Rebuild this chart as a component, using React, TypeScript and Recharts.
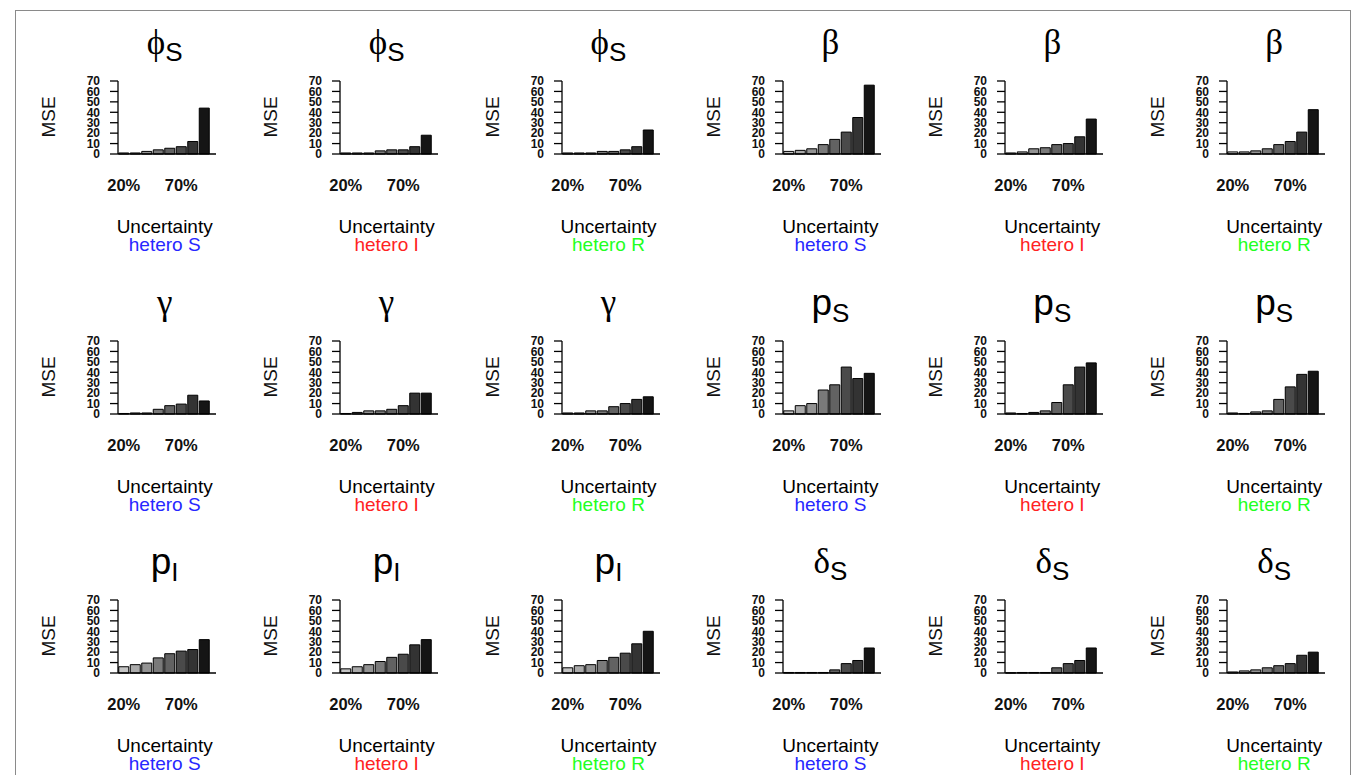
import React from "react";
import { Bar, BarChart, Cell, XAxis, YAxis } from "recharts";

// uncertainty levels on the x axis
const uncertainty = ["20%", "30%", "40%", "50%", "60%", "70%", "80%", "90%"];
const labelledLevels = ["20%", "70%"];
const mseTicks = [0, 10, 20, 30, 40, 50, 60, 70];

// MSE per uncertainty level, one array per panel
const phiS_heteroS = [1, 1, 2.5, 4, 5.5, 7, 12, 44];
const phiS_heteroI = [1, 1, 1, 3, 4, 4, 7, 18];
const phiS_heteroR = [1, 1, 1, 2.5, 2.5, 4, 7, 23];
const beta_heteroS = [2.5, 3.5, 5, 9, 14, 21, 35, 66];
const beta_heteroI = [1, 2, 5, 6, 9, 10, 16.5, 33.5];
const beta_heteroR = [2, 2, 3, 5, 9, 12, 21, 42.5];

const gamma_heteroS = [0.5, 1, 1, 4.5, 8, 9.5, 18, 12.5];
const gamma_heteroI = [0.5, 1.5, 3, 3, 4.5, 8, 20, 20];
const gamma_heteroR = [1, 1, 3, 3, 7, 10, 14, 16.5];
const pS_heteroS = [3, 8, 10, 23, 28, 45, 34, 39];
const pS_heteroI = [1, 0.5, 1.5, 3, 11, 28, 45, 49];
const pS_heteroR = [1, 0.5, 2, 3, 14, 26, 38, 41];

const pI_heteroS = [6, 8, 9.5, 14.5, 18.5, 21, 22.5, 32];
const pI_heteroI = [4, 6, 8, 11, 15, 18, 27, 32];
const pI_heteroR = [5, 7, 8, 12, 15, 19, 28, 40];
const deltaS_heteroS = [0.5, 0.5, 0.5, 0.5, 3, 9, 12, 24];
const deltaS_heteroI = [0.2, 0.5, 0.5, 0.5, 5, 9, 12, 24];
const deltaS_heteroR = [1, 2, 3, 5, 7, 9, 17, 20];

const grays = ["#c4c4c4", "#aaaaaa", "#939393", "#7a7a7a", "#626262", "#4a4a4a", "#333333", "#151515"];
const scenarioColor: Record<string, string> = { S: "#2727ff", I: "#ff2222", R: "#22ff22" };

const sans = "'Liberation Sans', Arial, sans-serif";
const serif = "'Liberation Serif', 'DejaVu Serif', serif";

type Title = { main: string; sub?: string; greek: boolean };

const titles: Title[][] = [
  [{ main: "\u03d5", sub: "S", greek: true }, { main: "\u03b2", greek: true }],
  [{ main: "\u03b3", greek: true }, { main: "p", sub: "S", greek: false }],
  [{ main: "p", sub: "I", greek: false }, { main: "\u03b4", sub: "S", greek: true }],
];

const rows = [
  [phiS_heteroS, phiS_heteroI, phiS_heteroR, beta_heteroS, beta_heteroI, beta_heteroR],
  [gamma_heteroS, gamma_heteroI, gamma_heteroR, pS_heteroS, pS_heteroI, pS_heteroR],
  [pI_heteroS, pI_heteroI, pI_heteroR, deltaS_heteroS, deltaS_heteroI, deltaS_heteroR],
];
const scenarios = ["S", "I", "R"];

const axisX0 = 117.7;
const colStep = 221.9;
const baseY = [154, 413.5, 673];
const plotH = 73;
const yAxisW = 45;

function PanelTitle({ t, x, y }: { t: Title; x: number; y: number }) {
  const mainSize = t.greek ? 35 : 37;
  return (
    <div
      style={{
        position: "absolute",
        left: x - 60,
        top: y - 26,
        width: 120,
        textAlign: "center",
        lineHeight: "52px",
        color: "#000",
        whiteSpace: "nowrap",
      }}
    >
      <span style={{ fontFamily: t.greek ? serif : sans, fontSize: mainSize }}>{t.main}</span>
      {t.sub && (
        <span style={{ fontFamily: sans, fontSize: 26, position: "relative", top: 7 }}>{t.sub}</span>
      )}
    </div>
  );
}

function Panel({ values, col, row }: { values: number[]; col: number; row: number }) {
  const ax = axisX0 + col * colStep;
  const by = baseY[row];
  const scenario = scenarios[col % 3];
  const data = uncertainty.map((level, i) => ({ level, mse: values[i] }));
  const t = titles[row][Math.floor(col / 3)];

  return (
    <>
      <PanelTitle t={t} x={ax + 47} y={by - 111} />
      <div
        style={{
          position: "absolute",
          left: ax - 69 - 40,
          top: by - 37 - 12,
          width: 80,
          textAlign: "center",
          fontFamily: sans,
          fontSize: 19,
          lineHeight: "24px",
          color: "#111",
          transform: "rotate(-90deg)",
        }}
      >
        MSE
      </div>
      <div style={{ position: "absolute", left: ax - yAxisW, top: by - plotH - 10 }}>
        <BarChart
          width={yAxisW + 98 + 2}
          height={10 + plotH + 45}
          data={data}
          margin={{ top: 10, right: 2, left: 0, bottom: 0 }}
          barCategoryGap={0.75}
        >
          <XAxis
            dataKey="level"
            interval={0}
            tickLine={false}
            tickSize={0}
            tickMargin={25}
            height={45}
            padding={{ left: 0, right: 6 }}
            axisLine={{ stroke: "#000", strokeWidth: 1.3 }}
            tickFormatter={(v: string) => (labelledLevels.includes(v) ? v : "")}
            tick={{ fill: "#111", fontFamily: sans, fontSize: 16.5, fontWeight: 600 }}
          />
          <YAxis
            width={yAxisW}
            domain={[0, 70]}
            ticks={mseTicks}
            interval={0}
            tickSize={8}
            tickMargin={10}
            axisLine={{ stroke: "#000", strokeWidth: 1.3 }}
            tickLine={{ stroke: "#000", strokeWidth: 1.3 }}
            tick={{ fill: "#111", fontFamily: sans, fontSize: 12, fontWeight: 600 }}
          />
          <Bar dataKey="mse" stroke="#000" strokeWidth={1} isAnimationActive={false}>
            {data.map((d, i) => (
              <Cell key={d.level} fill={grays[i]} />
            ))}
          </Bar>
        </BarChart>
      </div>
      <div
        style={{
          position: "absolute",
          left: ax + 47 - 70,
          top: by + 73 - 11,
          width: 140,
          textAlign: "center",
          fontFamily: sans,
          fontSize: 19,
          lineHeight: "22px",
          color: "#000",
        }}
      >
        Uncertainty
      </div>
      <div
        style={{
          position: "absolute",
          left: ax + 47 - 70,
          top: by + 91 - 11,
          width: 140,
          textAlign: "center",
          fontFamily: sans,
          fontSize: 19,
          lineHeight: "22px",
          color: scenarioColor[scenario],
        }}
      >
        hetero {scenario}
      </div>
    </>
  );
}

export default function App() {
  return (
    <div
      style={{
        position: "absolute",
        left: 0,
        top: 0,
        width: 1358,
        height: 775,
        overflow: "hidden",
        background: "#fff",
      }}
    >
      <div
        style={{
          position: "absolute",
          left: 15,
          top: 10,
          width: 1334,
          height: 800,
          border: "1px solid #8a8a8a",
        }}
      />
      {rows.map((panels, r) =>
        panels.map((values, c) => <Panel key={`${r}-${c}`} values={values} col={c} row={r} />)
      )}
    </div>
  );
}
